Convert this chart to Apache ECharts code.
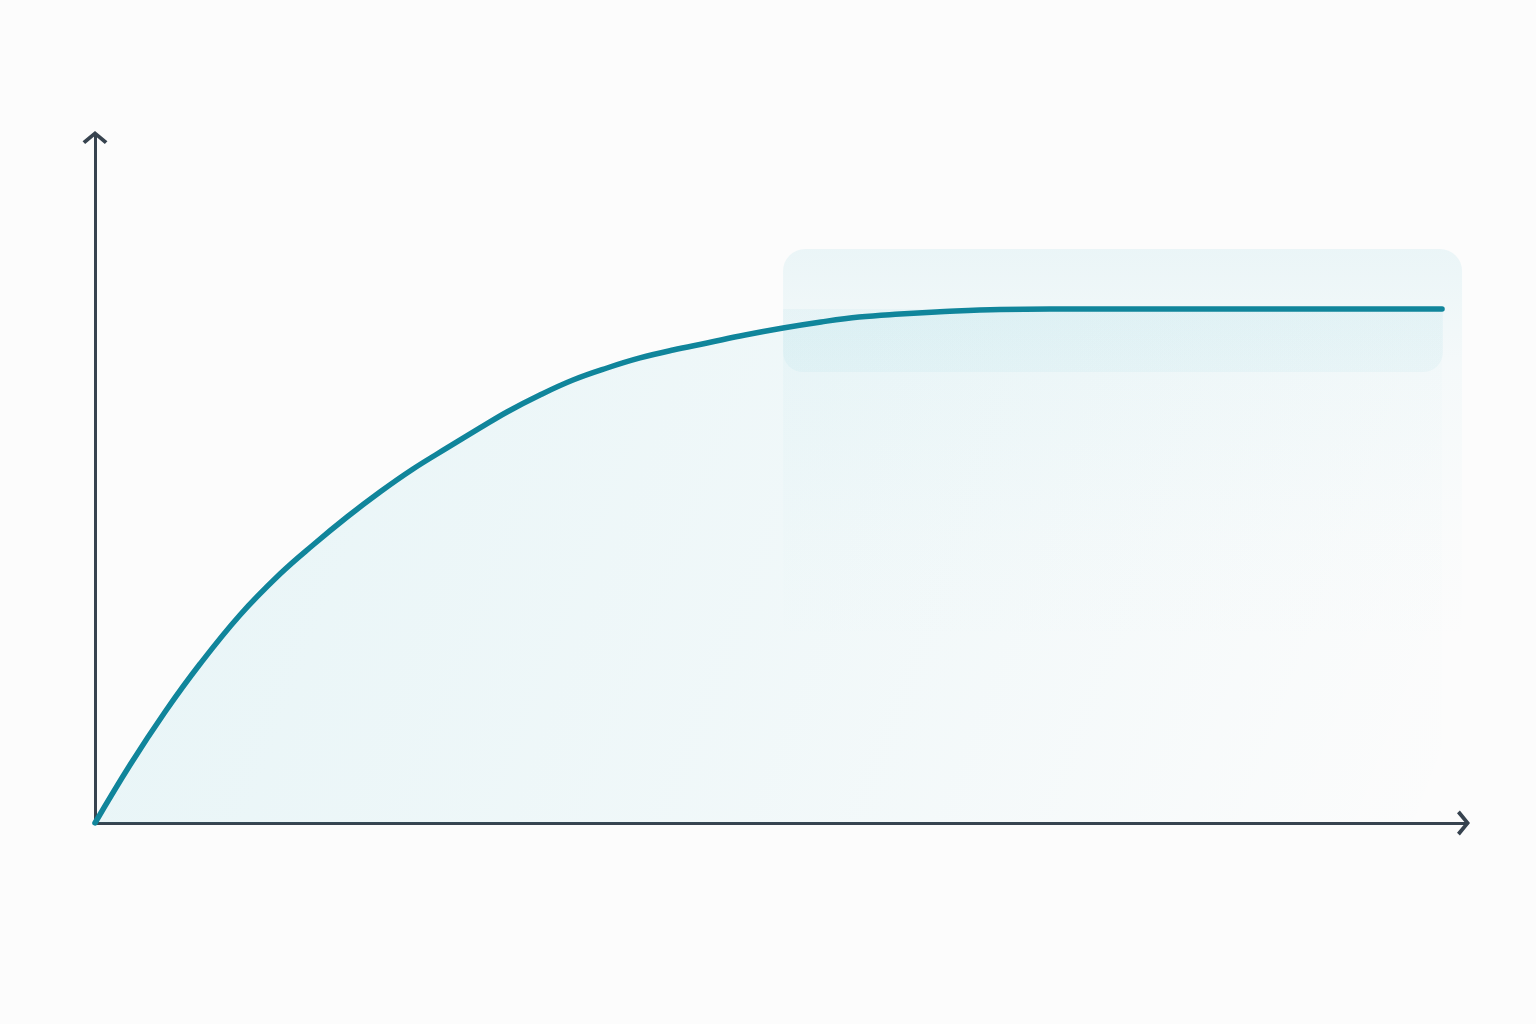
<!DOCTYPE html>
<html>
<head>
<meta charset="utf-8">
<script src="https://cdn.jsdelivr.net/npm/echarts@6/dist/echarts.min.js"></script>
<style>
  html, body { margin: 0; padding: 0; background: #fcfcfc; }
  #chart { width: 1536px; height: 1024px; }
</style>
</head>
<body>
<div id="chart"></div>
<script>
// Curve: x positions and y values
const curveX = [0, 2.55, 5.10, 7.65, 10.57, 13.48, 15.89, 18.37, 20.77, 23.18, 25.66, 28.06, 30.03,
  32.43, 34.84, 37.32, 39.72, 42.13, 44.61, 47.38, 50.15, 52.92, 55.69, 58.67, 61.30, 65.96, 73.25, 98.18];
const curveY = [0, 8.44, 16.16, 23.14, 30.28, 36.24, 40.47, 44.54, 48.18, 51.53, 54.59, 57.50, 59.83,
  62.30, 64.48, 66.23, 67.69, 68.85, 69.87, 71.03, 72.05, 72.93, 73.65, 74.09, 74.38, 74.75, 74.82, 74.82];
// Highlight region (plateau) [xStart, xEnd, yTop, yBottom]
const plateauRegion = [50.15, 99.64, 83.55, 0];
const plateauBand = [50.15, 98.25, 74.82, 65.65];
// Axis extents
const xRange = [0, 100];
const yRange = [0, 100];

const curveData = curveX.map((x, i) => [x, curveY[i]]);

const chevron = 'path://M13,0 L26,10.6 L23.3,13.6 L13,5 L2.7,13.6 L0,10.6 Z';
const axisColor = '#37434f';

const chart = echarts.init(document.getElementById('chart'), null, { renderer: 'canvas' });

function rectItem(radius, gradientStops) {
  return function (params, api) {
    const p0 = api.coord([api.value(0), api.value(2)]);
    const p1 = api.coord([api.value(1), api.value(3)]);
    return {
      type: 'rect',
      shape: { x: p0[0], y: p0[1], width: p1[0] - p0[0], height: p1[1] - p0[1], r: radius },
      style: { fill: new echarts.graphic.LinearGradient(0, 0, 0, 1, gradientStops) }
    };
  };
}

chart.setOption({
  backgroundColor: '#fcfcfc',
  animation: false,
  grid: { left: 95, right: 69, top: 136, bottom: 201 },
  xAxis: {
    type: 'value', min: xRange[0], max: xRange[1],
    axisLine: { show: true, symbol: ['none', chevron], symbolSize: [26, 13], symbolOffset: [0, -3.5],
      lineStyle: { color: axisColor, width: 3 } },
    axisTick: { show: false }, axisLabel: { show: false }, splitLine: { show: false }
  },
  yAxis: {
    type: 'value', min: yRange[0], max: yRange[1],
    axisLine: { show: true, symbol: ['none', chevron], symbolSize: [26, 13], symbolOffset: [0, -1.5],
      lineStyle: { color: axisColor, width: 3 } },
    axisTick: { show: false }, axisLabel: { show: false }, splitLine: { show: false }
  },
  series: [
    {
      type: 'custom', z: 1, silent: true, clip: false,
      encode: { x: [0, 1], y: [2, 3] },
      data: [plateauRegion],
      renderItem: rectItem([22, 22, 0, 0], [
        { offset: 0, color: 'rgba(80,185,205,0.10)' },
        { offset: 0.2, color: 'rgba(80,185,205,0.045)' },
        { offset: 0.5, color: 'rgba(80,185,205,0.012)' },
        { offset: 0.7, color: 'rgba(80,185,205,0.0)' },
        { offset: 1, color: 'rgba(80,185,205,0.0)' }
      ])
    },
    {
      type: 'custom', z: 2, silent: true, clip: false,
      encode: { x: [0, 1], y: [2, 3] },
      data: [plateauBand],
      renderItem: rectItem([0, 0, 20, 20], [
        { offset: 0, color: 'rgba(80,185,205,0.06)' },
        { offset: 1, color: 'rgba(80,185,205,0.06)' }
      ])
    },
    {
      type: 'line', z: 3,
      data: curveData,
      smooth: 0.4,
      showSymbol: false,
      symbol: 'none',
      lineStyle: { color: '#10859b', width: 5.5, cap: 'round', join: 'round' },
      areaStyle: {
        color: new echarts.graphic.LinearGradient(0, 0, 1, 1, [
          { offset: 0, color: 'rgba(20,170,195,0.13)' },
          { offset: 0.5, color: 'rgba(20,170,195,0.075)' },
          { offset: 1, color: 'rgba(20,170,195,0.0)' }
        ])
      }
    }
  ]
});
</script>
</body>
</html>
